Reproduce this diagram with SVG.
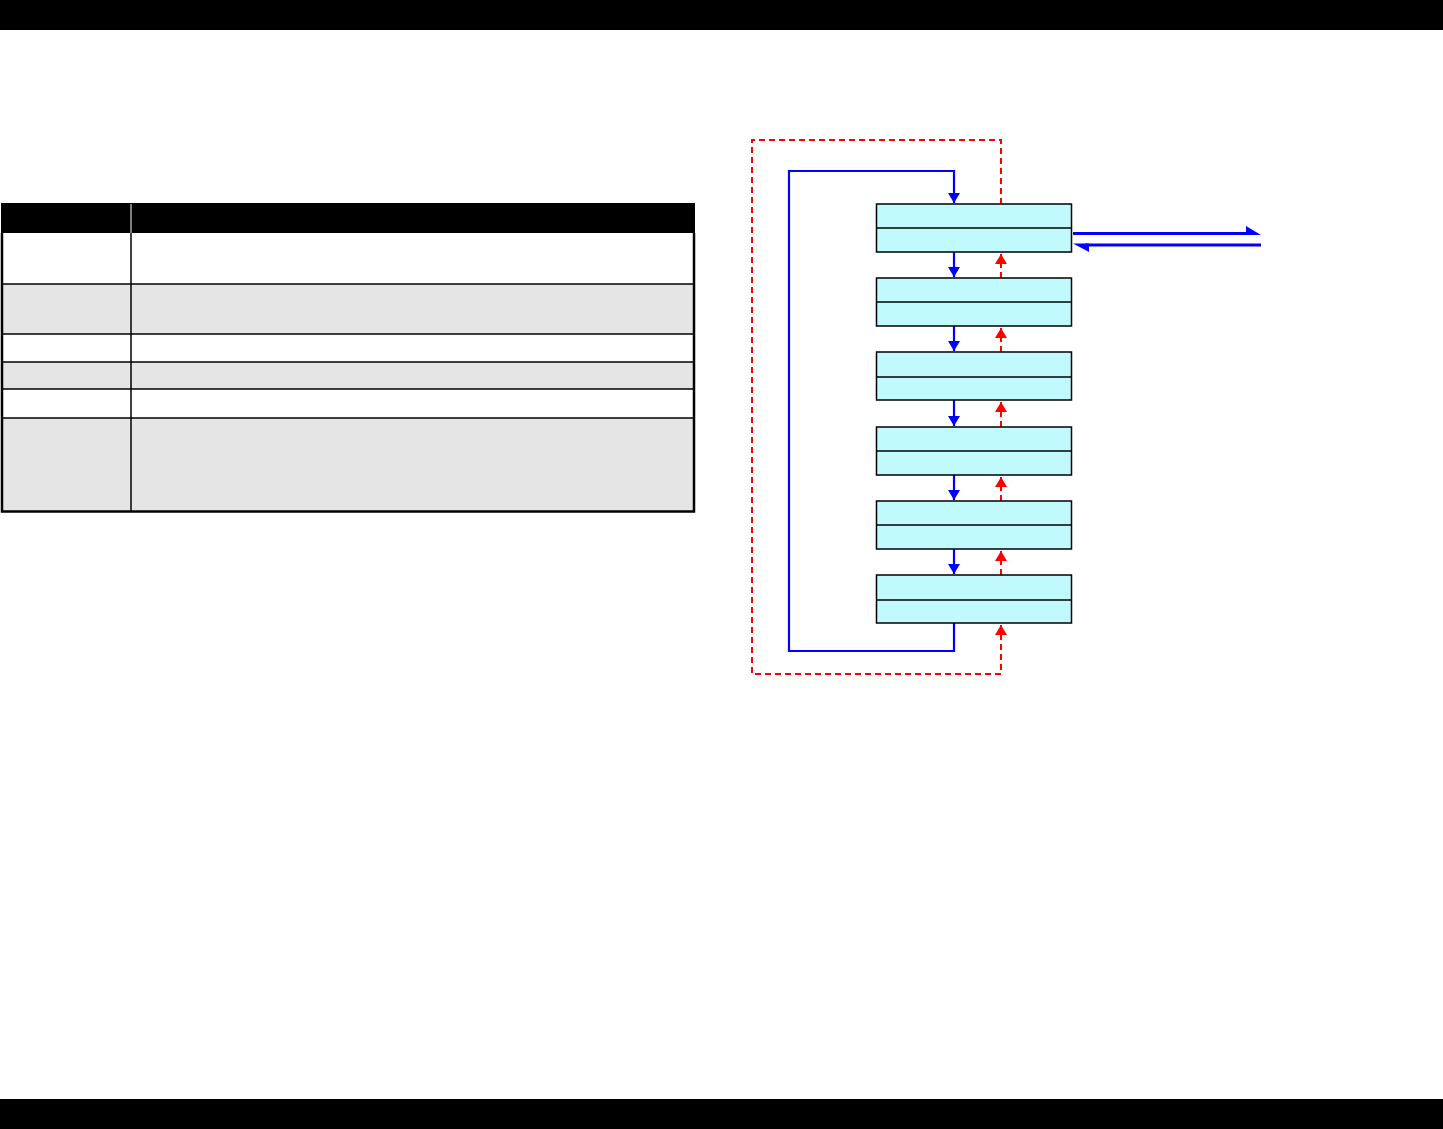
<svg xmlns="http://www.w3.org/2000/svg" width="1443" height="1129" viewBox="0 0 1443 1129">
<defs>
<style>
.box{fill:#c0fafc;stroke:#000;stroke-width:1.5}
.div{stroke:#000;stroke-width:1.5}
.blue{fill:none;stroke:#0000ff;stroke-width:2.2}
.red{fill:none;stroke:#ff0000;stroke-width:2;stroke-dasharray:6 4}
.tl{stroke:#000;stroke-width:1.5}
</style>
<marker id="ab" viewBox="0 0 10 12" refX="10" refY="6" markerWidth="10" markerHeight="12" markerUnits="userSpaceOnUse" orient="auto"><path d="M0,0L10,6L0,12z" fill="#0000ff"/></marker>
<marker id="ar" viewBox="0 0 10 12" refX="10" refY="6" markerWidth="10" markerHeight="12" markerUnits="userSpaceOnUse" orient="auto"><path d="M0,0L10,6L0,12z" fill="#ff0000"/></marker>
</defs>
<rect width="1443" height="1129" fill="#fff"/>
<rect x="0" y="0" width="1443" height="30" fill="#000"/>
<rect x="0" y="1099" width="1443" height="30" fill="#000"/>
<g id="table">
<rect x="1" y="203" width="694" height="30" fill="#000"/>
<line x1="131" y1="204" x2="131" y2="233" stroke="#fff" stroke-width="1"/>
<rect x="2" y="233" width="692" height="51" fill="#fff"/>
<rect x="2" y="284" width="692" height="50" fill="#e5e5e5"/>
<rect x="2" y="334" width="692" height="28" fill="#fff"/>
<rect x="2" y="362" width="692" height="27" fill="#e5e5e5"/>
<rect x="2" y="389" width="692" height="29" fill="#fff"/>
<rect x="2" y="418" width="692" height="93" fill="#e5e5e5"/>
<line class="tl" x1="1" y1="284" x2="695" y2="284"/>
<line class="tl" x1="1" y1="334" x2="695" y2="334"/>
<line class="tl" x1="1" y1="362" x2="695" y2="362"/>
<line class="tl" x1="1" y1="389" x2="695" y2="389"/>
<line class="tl" x1="1" y1="418" x2="695" y2="418"/>
<line class="tl" x1="131" y1="233" x2="131" y2="511"/>
<path d="M2,233V511.5H694V233" fill="none" stroke="#000" stroke-width="2.5"/>
</g>
<g id="connectors">
<path class="blue" d="M954,623V651H789V171H954V203" marker-end="url(#ab)"/>
<path class="red" d="M1001,204V140H752V674H1001V625" marker-end="url(#ar)"/>
<line class="blue" x1="954" y1="252" x2="954" y2="277" marker-end="url(#ab)"/>
<line class="blue" x1="954" y1="326" x2="954" y2="351" marker-end="url(#ab)"/>
<line class="blue" x1="954" y1="400" x2="954" y2="426" marker-end="url(#ab)"/>
<line class="blue" x1="954" y1="475" x2="954" y2="500" marker-end="url(#ab)"/>
<line class="blue" x1="954" y1="549" x2="954" y2="574" marker-end="url(#ab)"/>
<line class="red" x1="1001" y1="278" x2="1001" y2="254" marker-end="url(#ar)"/>
<line class="red" x1="1001" y1="352" x2="1001" y2="328" marker-end="url(#ar)"/>
<line class="red" x1="1001" y1="427" x2="1001" y2="402" marker-end="url(#ar)"/>
<line class="red" x1="1001" y1="501" x2="1001" y2="477" marker-end="url(#ar)"/>
<line class="red" x1="1001" y1="575" x2="1001" y2="551" marker-end="url(#ar)"/>
<line x1="1073" y1="233.5" x2="1250" y2="233.5" stroke="#0000ff" stroke-width="3"/>
<polygon points="1246,226 1261,235 1246,235" fill="#0000ff"/>
<line x1="1085" y1="245" x2="1261" y2="245" stroke="#0000ff" stroke-width="3"/>
<polygon points="1073,243.5 1089,243.5 1089,252" fill="#0000ff"/>
</g>
<g id="node1"><rect class="box" x="876.5" y="204" width="195" height="48"/><line class="div" x1="876.5" y1="228" x2="1071.5" y2="228"/></g>
<g id="node2"><rect class="box" x="876.5" y="278" width="195" height="48"/><line class="div" x1="876.5" y1="302" x2="1071.5" y2="302"/></g>
<g id="node3"><rect class="box" x="876.5" y="352" width="195" height="48"/><line class="div" x1="876.5" y1="377" x2="1071.5" y2="377"/></g>
<g id="node4"><rect class="box" x="876.5" y="427" width="195" height="48"/><line class="div" x1="876.5" y1="451" x2="1071.5" y2="451"/></g>
<g id="node5"><rect class="box" x="876.5" y="501" width="195" height="48"/><line class="div" x1="876.5" y1="525" x2="1071.5" y2="525"/></g>
<g id="node6"><rect class="box" x="876.5" y="575" width="195" height="48"/><line class="div" x1="876.5" y1="600" x2="1071.5" y2="600"/></g>
</svg>
